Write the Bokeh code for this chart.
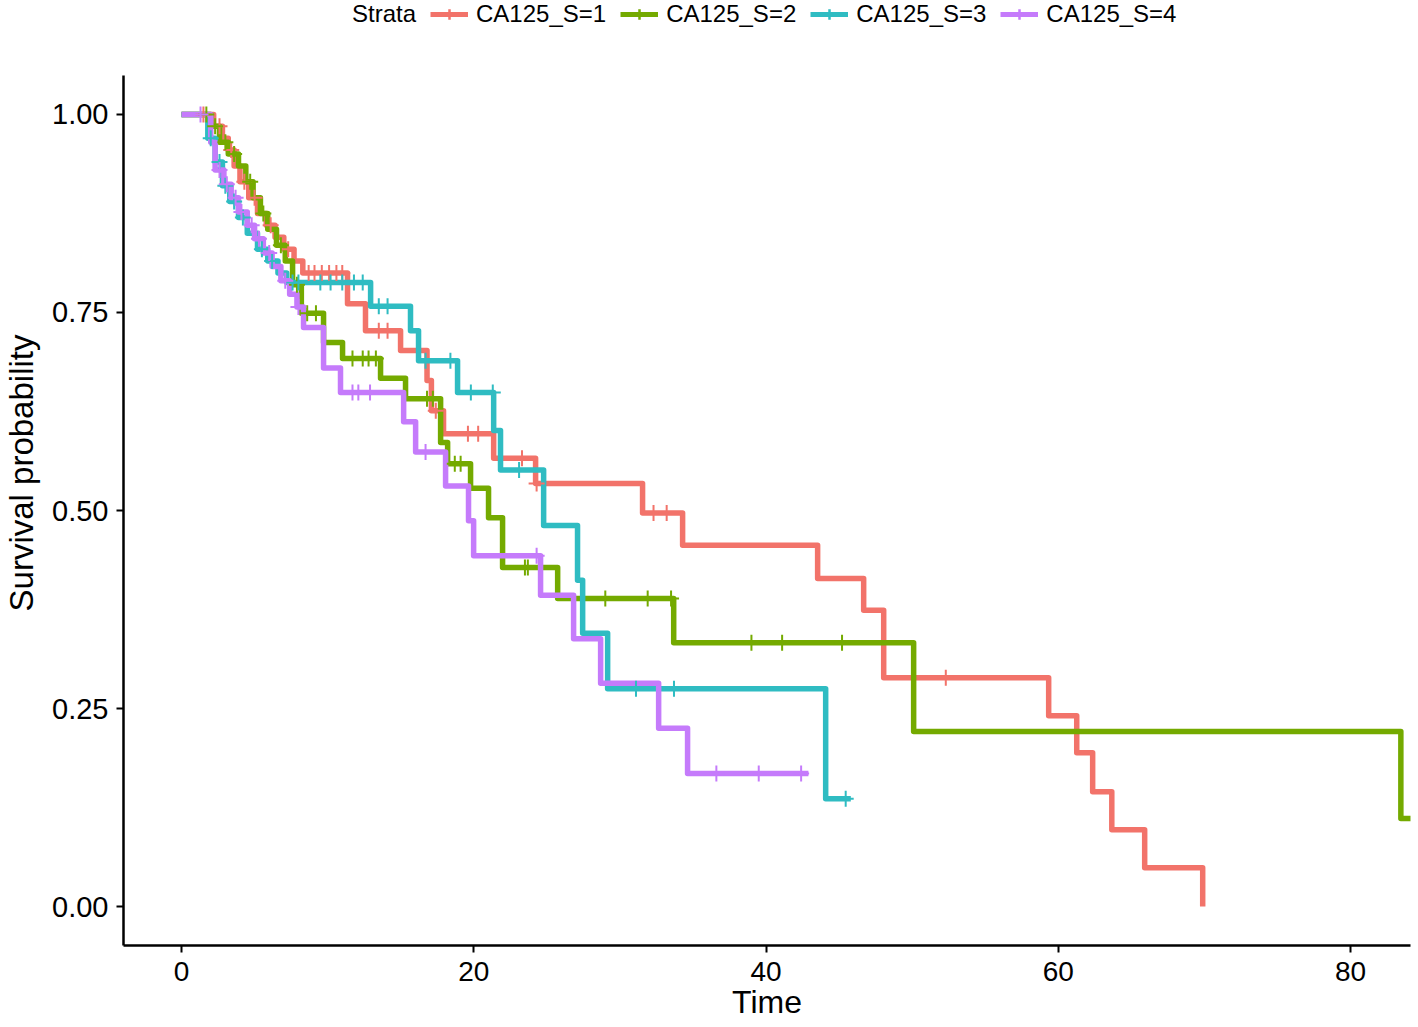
import numpy as np
from bokeh.plotting import figure
from bokeh.models import Range1d, FixedTicker, NumeralTickFormatter, Legend, LegendItem
from bokeh.embed import file_html
from bokeh.resources import INLINE

strata = ["CA125_S=1", "CA125_S=2", "CA125_S=3", "CA125_S=4"]
colors = ["#F2736A", "#74AA00", "#2FBCC2", "#C57BFB"]

# Stratum 1 (red)
s1_time = [0, 2.2, 2.8, 3.2, 3.6, 4.0, 4.6, 5.2, 5.8, 6.4, 7.0, 7.7, 8.3, 11.36, 12.59, 14.99,
           16.8, 17.1, 17.93, 21.36, 24.23, 31.55, 34.29, 43.53, 46.68, 48.05, 59.34, 61.26,
           62.35, 63.66, 65.91, 69.88]
s1_surv = [1.0, 0.985, 0.97, 0.955, 0.935, 0.915, 0.895, 0.875, 0.86, 0.845, 0.83, 0.815, 0.80,
           0.761, 0.727, 0.702, 0.664, 0.626, 0.597, 0.566, 0.534, 0.497, 0.456, 0.414, 0.374,
           0.289, 0.241, 0.194, 0.145, 0.097, 0.049, 0.0]
s1_end = 69.88
s1_cens = [1.5, 2.6, 3.4, 4.3, 5.0, 6.1, 7.3, 8.7, 9.1, 9.6, 10.1, 10.6, 11.0, 13.5, 14.1, 17.4,
           19.6, 20.3, 23.3, 24.3, 32.3, 33.2, 52.3]

# Stratum 2 (green)
s2_time = [0, 2.0, 2.6, 3.2, 3.9, 4.4, 4.9, 5.4, 5.9, 6.5, 7.1, 7.6, 8.2, 9.72, 11.02, 13.62,
           15.33, 17.73, 18.21, 19.78, 21.01, 21.97, 25.74, 33.68, 50.1, 83.44]
s2_surv = [1.0, 0.985, 0.965, 0.95, 0.935, 0.915, 0.895, 0.875, 0.855, 0.835, 0.815, 0.785, 0.749,
           0.712, 0.692, 0.667, 0.641, 0.586, 0.559, 0.528, 0.491, 0.428, 0.389, 0.333, 0.221, 0.111]
s2_end = 84.2
s2_cens = [1.7, 2.3, 3.0, 3.6, 4.7, 5.6, 6.8, 7.9, 8.6, 9.2, 11.7, 12.4, 12.8, 13.3, 16.8, 17.2,
           18.7, 19.1, 23.5, 23.7, 29.0, 31.9, 33.5, 39.0, 41.1, 45.2]

# Stratum 3 (cyan)
s3_time = [0, 1.8, 2.3, 2.8, 3.3, 3.9, 4.5, 5.2, 5.9, 6.6, 7.2, 12.94, 15.67, 16.22, 18.89, 21.36,
           21.83, 24.78, 27.1, 27.45, 29.16, 44.08]
s3_surv = [1.0, 0.97, 0.94, 0.91, 0.89, 0.87, 0.85, 0.83, 0.815, 0.80, 0.788, 0.758, 0.727, 0.689,
           0.649, 0.601, 0.551, 0.481, 0.412, 0.345, 0.275, 0.136]
s3_end = 45.8
s3_cens = [2.0, 2.6, 3.0, 3.6, 4.2, 5.5, 6.2, 7.6, 8.0, 9.5, 10.2, 11.0, 11.8, 12.4, 13.5, 14.1,
           16.7, 18.4, 19.8, 21.3, 23.1, 31.1, 33.7, 45.45]

# Stratum 4 (purple)
s4_time = [0, 2.0, 2.3, 2.9, 3.4, 3.9, 4.5, 5.0, 5.6, 6.2, 6.8, 7.4, 7.9, 8.35, 9.72, 10.88, 15.2,
           16.02, 18.07, 19.64, 19.99, 24.57, 26.83, 28.68, 32.65, 34.63]
s4_surv = [1.0, 0.965, 0.93, 0.912, 0.895, 0.877, 0.86, 0.843, 0.825, 0.808, 0.79, 0.773, 0.757,
           0.731, 0.68, 0.649, 0.612, 0.574, 0.531, 0.487, 0.443, 0.393, 0.338, 0.282, 0.225, 0.168]
s4_end = 42.9
s4_cens = [1.3, 2.6, 3.1, 3.7, 4.1, 4.8, 5.3, 6.0, 7.1, 8.0, 11.7, 12.1, 12.9, 16.7, 24.3, 36.6,
           39.5, 42.4]

x_ticks = [0, 20, 40, 60, 80]
y_ticks = [0.0, 0.25, 0.5, 0.75, 1.0]

series = [
    (s1_time, s1_surv, s1_end, s1_cens),
    (s2_time, s2_surv, s2_end, s2_cens),
    (s3_time, s3_surv, s3_end, s3_cens),
    (s4_time, s4_surv, s4_end, s4_cens),
]

FONT = "Liberation Sans"

# frame spans from the canvas top; the y axis line is limited with bounds,
# the space above it holds the legend
p = figure(width=1418, height=1027, output_backend="svg", toolbar_location=None,
           x_range=Range1d(-3.97, 84.1), y_range=Range1d(-0.0492, 1.1439),
           min_border_left=123, min_border_right=8, min_border_top=0, min_border_bottom=82)
p.outline_line_color = None
p.xgrid.visible = False
p.ygrid.visible = False
p.background_fill_color = "white"
p.border_fill_color = "white"

for ax in (p.xaxis[0], p.yaxis[0]):
    ax.axis_line_width = 2.5
    ax.axis_line_color = "black"
    ax.major_tick_line_width = 2
    ax.major_tick_line_color = "black"
    ax.major_tick_out = 7
    ax.major_tick_in = 0
    ax.minor_tick_line_color = None
    ax.major_label_text_font = FONT
    ax.major_label_text_color = "black"
    ax.axis_label_text_font = FONT
    ax.axis_label_text_font_style = "normal"
    ax.axis_label_text_color = "black"

p.yaxis.bounds = (-0.0492, 1.049)
p.xaxis.ticker = FixedTicker(ticks=x_ticks)
p.yaxis.ticker = FixedTicker(ticks=y_ticks)
p.yaxis.formatter = NumeralTickFormatter(format="0.00")
p.xaxis.major_label_text_font_size = "28px"
p.yaxis.major_label_text_font_size = "29px"
p.xaxis.major_label_standoff = 9
p.yaxis.major_label_standoff = 8

p.yaxis.axis_label = "Survival probability"
p.yaxis.axis_label_text_font_size = "33px"
p.yaxis.axis_label_standoff = 9

p.xaxis.axis_label = "Time"
p.xaxis.axis_label_text_font_size = "32px"
p.xaxis.axis_label_standoff = 0

def surv_at(times, survs, t):
    idx = np.searchsorted(np.asarray(times), t, side="right") - 1
    return survs[idx]

line_w = 5.5
for (tt, ss, end, cens), col in zip(series, colors):
    xs = list(tt) + [end]
    ys = list(ss) + [ss[-1]]
    p.step(xs, ys, mode="after", line_color=col, line_width=line_w, line_join="round")

for (tt, ss, end, cens), col in zip(series, colors):
    cy = [surv_at(tt, ss, c) for c in cens]
    p.scatter(cens, cy, marker="cross", size=16, line_color=col, line_width=2)

# legend: proxy renderers with a single point outside the visible ranges
OFF = [-1000]
dummy = p.line(OFF, OFF, line_alpha=0)
items = [LegendItem(label="Strata", renderers=[dummy])]
for name, col in zip(strata, colors):
    lr = p.line(OFF, OFF, line_color=col, line_width=5)
    mr = p.scatter(OFF, OFF, marker="cross", size=22, line_color=col, line_width=2.5)
    items.append(LegendItem(label=name, renderers=[lr, mr]))

legend = Legend(items=items, orientation="horizontal", location=(183, 917),
                glyph_width=38, glyph_height=26, label_standoff=8, spacing=14,
                padding=0, margin=0, border_line_color=None, background_fill_alpha=0,
                label_text_font=FONT, label_text_font_size="24px", label_text_color="black",
                label_text_baseline="middle")
p.add_layout(legend, "center")

open("out.html", "w").write(file_html(p, INLINE))
